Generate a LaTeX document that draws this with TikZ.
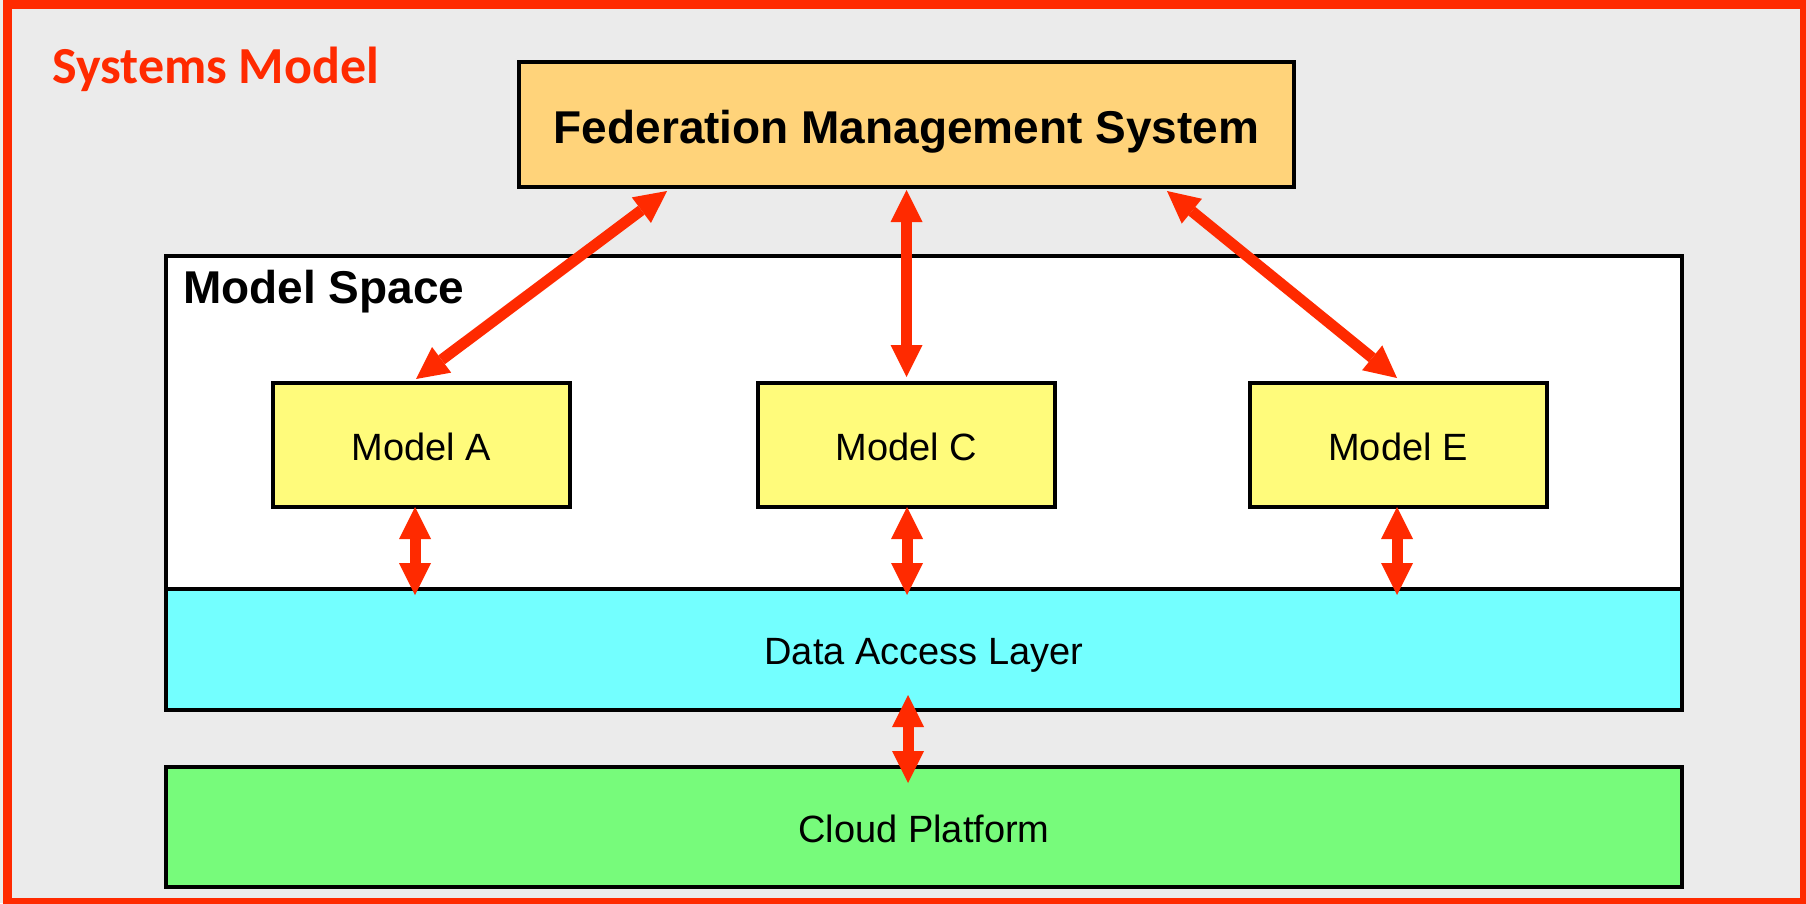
\documentclass[tikz,border=0pt]{standalone}
\usepackage{fontspec}
\setmainfont{Liberation Sans}
\newfontfamily\titlefont{Carlito}
\usetikzlibrary{arrows.meta,calc}

\definecolor{framered}{HTML}{FF2A00}
\definecolor{panelgray}{HTML}{EBEBEB}
\definecolor{fedfill}{HTML}{FFD37A}
\definecolor{modelfill}{HTML}{FFFB7B}
\definecolor{dalfill}{HTML}{73FFFF}
\definecolor{cloudfill}{HTML}{77FB7B}

\tikzset{
  box/.style={draw=black, line width=4pt, rectangle, inner sep=0pt, outer sep=0pt},
  modelbox/.style={box, fill=modelfill, minimum width=297pt, minimum height=124pt,
    font=\fontsize{38}{44}\selectfont, text height=30pt, text depth=0pt},
  layerbox/.style={box, minimum width=1516pt, font=\fontsize{38}{44}\selectfont},
  tipshape/.tip={Triangle[length=32pt, width=32pt, line width=0pt]},
  biarrow/.style={draw=framered, line width=11pt, {tipshape}-{tipshape}},
}

\begin{document}
\begin{tikzpicture}[x=1pt, y=-1pt]
  \useasboundingbox (0,0) rectangle (1806,903);

  % outer panel with red frame
  \fill[panelgray] (0,0) rectangle (1806,903);
  \draw[framered, line width=9pt] (7,4.5) rectangle (1804.5,902.5);
  \node[anchor=base west, text=framered, font=\titlefont\bfseries\fontsize{52}{60}\selectfont, inner sep=0pt]
    (title) at (52,83) {Systems Model};

  % top-level management system
  \node[box, fill=fedfill, minimum width=775pt, minimum height=125pt,
        font=\bfseries\fontsize{46}{54}\selectfont, text height=37pt, text depth=0pt]
    (fed) at (906.5,124.5) {Federation Management System};

  % model space container
  \draw[line width=4pt, fill=white] (166,256) rectangle (1682,589);
  \node[anchor=base west, font=\bfseries\fontsize{46}{54}\selectfont, inner sep=0pt]
    (mslabel) at (183,303) {Model Space};

  % models
  \node[modelbox] (ma) at (421.5,445) {Model A};
  \node[modelbox] (mc) at (906.5,445) {Model C};
  \node[modelbox] (me) at (1398,445) {Model E};

  % layers
  \node[layerbox, fill=dalfill, minimum height=121pt, text height=29pt, text depth=0pt]
    (dal) at (924,649.5) {Data Access Layer};
  \node[layerbox, fill=cloudfill, minimum height=120pt, text height=30pt, text depth=0pt]
    (cloud) at (924,827) {Cloud Platform};

  % management links
  \draw[biarrow] ($(fed.south)+(-239.5,4)$) -- ($(ma.north)+(-5.5,-4)$);
  \draw[biarrow] ($(fed.south)+(0,3)$) -- ($(mc.north)+(0,-6)$);
  \draw[biarrow] ($(fed.south)+(260.5,4)$) -- ($(me.north)+(-1,-5)$);

  % model to data access links
  \draw[biarrow] ($(ma.south)+(-6.5,0)$) -- ($(ma.south |- dal.north)+(-6.5,6)$);
  \draw[biarrow] ($(mc.south)+(0.5,0)$) -- ($(mc.south |- dal.north)+(0.5,6)$);
  \draw[biarrow] ($(me.south)+(-1,0)$) -- ($(me.south |- dal.north)+(-1,6)$);

  % data access to platform link
  \draw[biarrow] ($(dal.south)+(-16,-15)$) -- ($(cloud.north)+(-16,16)$);
\end{tikzpicture}
\end{document}
